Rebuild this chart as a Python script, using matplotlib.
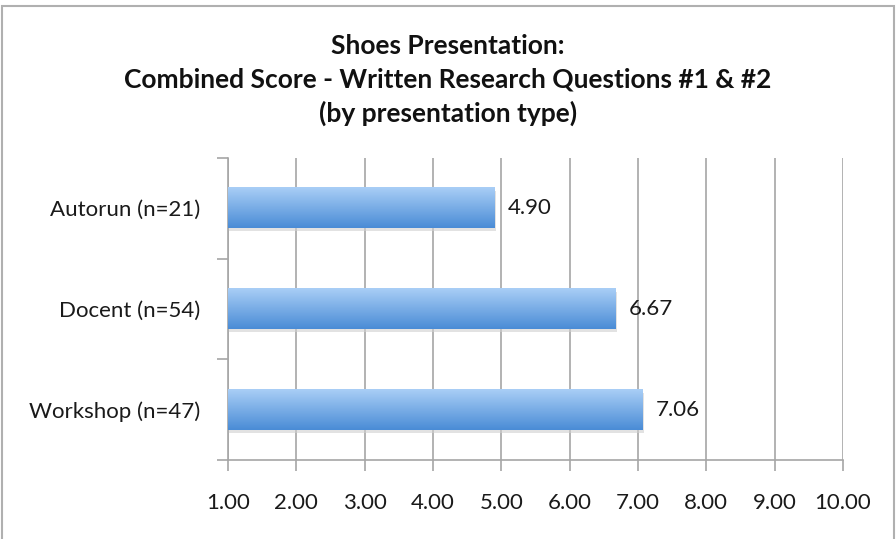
import numpy as np
import matplotlib.pyplot as plt
from matplotlib.colors import LinearSegmentedColormap
from matplotlib.patches import Rectangle

categories = ['Autorun (n=21)', 'Docent (n=54)', 'Workshop (n=47)']
scores = [4.90, 6.67, 7.06]
xticks = [1, 2, 3, 4, 5, 6, 7, 8, 9, 10]
title = 'Shoes Presentation:\nCombined Score - Written Research Questions #1 & #2\n(by presentation type)'

plt.rcParams['font.family'] = ['Lato', 'DejaVu Sans']

fig = plt.figure(figsize=(8.96, 5.39), dpi=100)
ax = fig.add_axes([228 / 896, 1 - 460 / 539, (843 - 228) / 896, (460 - 158) / 539])

grey = '#a6a6a6'
ypos = np.arange(len(categories))
bar_h = 0.4
# light on top, darker at the bottom
grad = LinearSegmentedColormap.from_list('bar', ['#a9cef6', '#4a8cd6'])
g = np.linspace(0, 1, 100).reshape(-1, 1)

for y, v in zip(ypos, scores):
    # soft shadow
    ax.add_patch(Rectangle((1, y - bar_h / 2 + 0.03), v - 1 + 0.025, bar_h,
                           fc='#d0d0d0', ec='none', alpha=0.6, zorder=2))
    ax.imshow(g, cmap=grad, aspect='auto', origin='upper',
              extent=(1, v, y + bar_h / 2, y - bar_h / 2), zorder=3)
    ax.text(v + 0.2, y, '%.2f' % v, va='center', ha='left', fontsize=16, color='#1a1a1a')

ax.set_xlim(1, 10)
ax.set_ylim(len(categories) - 0.5, -0.5)
ax.set_xticks(xticks)
ax.set_xticklabels(['%.2f' % t for t in xticks])
ax.set_yticks(ypos)
ax.set_yticklabels(categories)
ax.set_yticks([-0.5, 0.5, 1.5, 2.5], minor=True)
ax.tick_params(axis='y', which='major', length=0, pad=20, labelsize=16, labelcolor='#1a1a1a')
ax.tick_params(axis='y', which='minor', length=8, color=grey, width=1.2)
ax.tick_params(axis='x', length=8, color=grey, width=1.2, pad=16, labelsize=16, labelcolor='#1a1a1a')
ax.grid(axis='x', color=grey, lw=1.2, zorder=1)
ax.set_axisbelow(True)
for s in ['top', 'right']:
    ax.spines[s].set_visible(False)
for s in ['left', 'bottom']:
    ax.spines[s].set_color(grey)
    ax.spines[s].set_linewidth(1.2)

fig.text(0.5, 1 - 80 / 539, title, ha='center', va='center', fontsize=19,
         fontweight='bold', linespacing=1.45, color='#111111')

fig.patches.append(Rectangle((2 / 896, -0.01), 1 - 4 / 896, 1 - 1 / 539,
                             transform=fig.transFigure, fill=False, ec='#b0b0b0', lw=1.5))

fig.savefig('out.png', dpi=100)
